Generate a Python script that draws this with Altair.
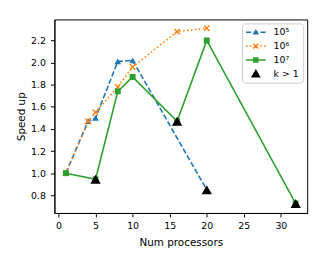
import altair as alt
import pandas as pd

# ---- data ----
procs_1e5 = [1, 4, 5, 8, 10, 20]
speed_1e5 = [1.00, 1.47, 1.50, 2.01, 2.02, 0.85]
procs_1e6 = [1, 4, 5, 8, 10, 16, 20]
speed_1e6 = [1.00, 1.47, 1.55, 1.78, 1.96, 2.28, 2.31]
procs_1e7 = [1, 5, 8, 10, 16, 20, 32]
speed_1e7 = [1.00, 0.945, 1.74, 1.87, 1.47, 2.20, 0.725]
procs_k = [5, 16, 20, 32]
speed_k = [0.945, 1.47, 0.85, 0.725]

series_labels = ["10⁵", "10⁶", "10⁷", "k > 1"]
x_ticks = [0, 5, 10, 15, 20, 25, 30]
y_ticks = [0.8, 1.0, 1.2, 1.4, 1.6, 1.8, 2.0, 2.2]

colors = ["#1f77b4", "#ff7f0e", "#2ca02c", "#000000"]

rows = []
for lab, xs, ys in zip(series_labels,
                       [procs_1e5, procs_1e6, procs_1e7, procs_k],
                       [speed_1e5, speed_1e6, speed_1e7, speed_k]):
    for xv, yv in zip(xs, ys):
        rows.append({"procs": xv, "speed": yv, "series": lab})
df = pd.DataFrame(rows)

FONT = "DejaVu Sans"

x_enc = alt.X("procs:Q",
              scale=alt.Scale(domain=[-0.55, 33.55], nice=False, zero=False),
              axis=alt.Axis(values=x_ticks, title="Num processors", format="d",
                            titleY=33, titleBaseline="alphabetic"))
y_enc = alt.Y("speed:Q",
              scale=alt.Scale(domain=[0.64, 2.39], nice=False, zero=False),
              axis=alt.Axis(values=y_ticks, title="Speed up", format=".1f",
                            titleX=-33, titleY=98, titleAlign="center",
                            titleBaseline="middle"))


def sub(name):
    return alt.Chart(df).transform_filter(alt.datum.series == name)


LW = 1.6
layers = []
# 10^5 : blue dashed, triangles
layers.append(sub(series_labels[0]).mark_line(color=colors[0], strokeWidth=LW,
                                              strokeDash=[5.5, 2.4]).encode(x=x_enc, y=y_enc))
layers.append(sub(series_labels[0]).mark_point(shape="triangle-up", filled=True, opacity=1,
                                               color=colors[0], size=45).encode(x=x_enc, y=y_enc))
# 10^6 : orange dotted, x markers
layers.append(sub(series_labels[1]).mark_line(color=colors[1], strokeWidth=LW,
                                              strokeDash=[1.5, 2.5]).encode(x=x_enc, y=y_enc))
layers.append(sub(series_labels[1]).mark_point(shape="M-1,-1L1,1M-1,1L1,-1", filled=False, opacity=1,
                                               color=colors[1], size=30, strokeWidth=1.4).encode(x=x_enc, y=y_enc))
# 10^7 : green solid, squares
layers.append(sub(series_labels[2]).mark_line(color=colors[2], strokeWidth=LW).encode(x=x_enc, y=y_enc))
layers.append(sub(series_labels[2]).mark_point(shape="square", filled=True, opacity=1,
                                               color=colors[2], size=36).encode(x=x_enc, y=y_enc))
# k > 1 : black triangles
layers.append(sub(series_labels[3]).mark_point(shape="triangle-up", filled=True, opacity=1,
                                               color=colors[3], size=110).encode(x=x_enc, y=y_enc))

# legend symbols: line segment + marker drawn as filled paths (unit = 5px)
def rect(x0, x1, t=0.15):
    return f"M{x0},{-t}L{x1},{-t}L{x1},{t}L{x0},{t}Z"

tri_small = "M-0.65,0.45L0,-0.65L0.65,0.45Z"
sym_1e5 = rect(-2, -0.95) + rect(-0.45, 0.45) + rect(0.95, 2) + tri_small
xmark = ("M-0.6,-0.4L-0.4,-0.6L0.6,0.4L0.4,0.6Z"
         "M0.6,-0.4L-0.4,0.6L-0.6,0.4L0.4,-0.6Z")
sym_1e6 = "".join(rect(c - 0.15, c + 0.15) for c in [-1.85, -1.05, 1.05, 1.85]) + xmark
sym_1e7 = rect(-2, 2) + "M-0.55,-0.55L0.55,-0.55L0.55,0.55L-0.55,0.55Z"
sym_k = "M-1,0.75L0,-0.95L1,0.75Z"

leg = alt.Legend(title=None, orient="top-right", offset=4, padding=4,
                 strokeColor="#cccccc", fillColor="white", cornerRadius=3,
                 symbolOffset=5, labelOffset=13, rowPadding=4,
                 labelFont=FONT, labelFontSize=9.5, labelColor="black",
                 symbolSize=100, symbolStrokeWidth=0, symbolOpacity=1)

legend_layer = alt.Chart(df).transform_filter("false").mark_point(
    filled=True, opacity=1, size=100, strokeWidth=0).encode(
    x=x_enc, y=y_enc,
    color=alt.Color("series:N", scale=alt.Scale(domain=series_labels, range=colors), legend=leg),
    shape=alt.Shape("series:N", scale=alt.Scale(domain=series_labels,
                                                range=[sym_1e5, sym_1e6, sym_1e7, sym_k]), legend=leg),
)
layers.append(legend_layer)

chart = alt.layer(*layers).properties(
    width=256, height=196,
    padding={"left": 47, "top": 10, "right": 15, "bottom": 45},
    autosize=alt.AutoSizeParams(type="none"),
).configure_view(stroke="black", strokeWidth=1).configure_axis(
    grid=False, domainColor="black", domainWidth=1, tickColor="black", tickSize=4,
    tickWidth=1, labelColor="black", labelFont=FONT, labelFontSize=9.5,
    labelPadding=4, titleFont=FONT, titleFontSize=10.5, titleFontWeight="normal",
    titleColor="black",
).configure_axisY(labelPadding=5)

chart.save("out.html", embed_options={"renderer": "svg", "actions": False})
